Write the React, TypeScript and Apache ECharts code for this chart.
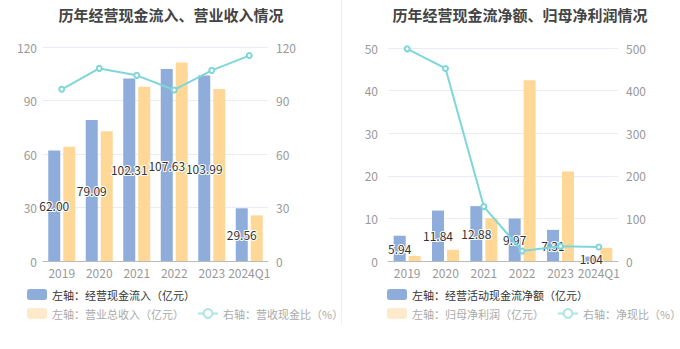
import React, { useEffect, useRef } from "react";
import * as echarts from "echarts";

const years = ["2019", "2020", "2021", "2022", "2023", "2024Q1"];
// left chart
const cashInflow = [62.0, 79.09, 102.31, 107.63, 103.99, 29.56];
const revenue = [64.0, 72.7, 97.7, 111.3, 96.4, 25.6];
const inflowRatio = [96.3, 108.0, 104.1, 95.9, 106.9, 115.2];
// right chart
const netCash = [5.94, 11.84, 12.88, 9.97, 7.31, 1.04];
const netProfit = [1.19, 2.62, 10.08, 42.45, 21.0, 3.1];
const netRatio = [498, 452, 127.7, 23.5, 34.5, 33.0];

const BLUE = "#8eaddb";
const ORANGE = "#ffd898";
const TEAL = "#7fd6d9";
const FONT = "'Noto Sans CJK SC', 'Noto Sans', sans-serif";

export default function App() {
  const ref = useRef<HTMLDivElement>(null);
  useEffect(() => {
    if (!ref.current) return;
    const chart = echarts.init(ref.current, null, { renderer: "svg" });
    const axisLabel = { color: "#999", fontSize: 12, fontFamily: FONT };
    const splitLine = { lineStyle: { color: "#e8edf5" } };
    const xAxisCommon = {
      type: "category",
      data: years,
      axisLine: { lineStyle: { color: "#bbb" } },
      axisTick: { alignWithLabel: true, length: 4, lineStyle: { color: "#bbb" } },
      axisLabel: { ...axisLabel, margin: 5, interval: 0 },
    };
    const valueAxis = (gridIndex: number, max: number, interval: number, margin: number, showSplit: boolean) => ({
      type: "value",
      gridIndex,
      min: 0,
      max,
      interval,
      axisLine: { show: false },
      axisTick: { show: false },
      axisLabel: { ...axisLabel, margin },
      splitLine: { show: showSplit, ...splitLine },
    });
    const barLabel = {
      show: true,
      position: "inside",
      color: "#333",
      fontSize: 12,
      fontFamily: FONT,
      textBorderColor: "#fff",
      textBorderWidth: 2,
      formatter: (p: any) => Number(p.value).toFixed(2),
    };
    const legendText = { fontSize: 11, fontFamily: FONT, color: "#333" };
    const fadedText = { fontSize: 11, fontFamily: FONT, color: "#aaa" };
    const mkLegends = (left: number, names: string[]) => [
      {
        left,
        top: 289,
        padding: 0,
        itemWidth: 20,
        itemHeight: 11,
        itemGap: 12,
        textStyle: legendText,
        data: [{ name: names[0], itemStyle: { color: BLUE } }],
      },
      {
        left,
        top: 308,
        padding: 0,
        width: 320,
        itemWidth: 20,
        itemHeight: 11,
        itemGap: 13,
        data: [
          { name: names[1], itemStyle: { color: "#ffeacb" }, textStyle: fadedText },
          {
            name: names[2],
            itemStyle: { color: "#ade5e7" },
            lineStyle: { color: "#ade5e7", width: 2 },
            textStyle: fadedText,
          },
        ],
      },
    ];
    const leftNames = ["左轴：经营现金流入（亿元）", "左轴：营业总收入（亿元）", "右轴：营收现金比（%）"];
    const rightNames = ["左轴：经营活动现金流净额（亿元）", "左轴：归母净利润（亿元）", "右轴：净现比（%）"];
    chart.setOption({
      animation: false,
      textStyle: { fontFamily: FONT },
      title: [
        {
          text: "历年经营现金流入、营业收入情况",
          left: 166,
          textAlign: "center",
          top: 2,
          textStyle: { fontSize: 15, fontWeight: "bold", color: "#444", fontFamily: FONT },
        },
        {
          text: "历年经营现金流净额、归母净利润情况",
          left: 515,
          textAlign: "center",
          top: 2,
          textStyle: { fontSize: 15, fontWeight: "bold", color: "#444", fontFamily: FONT },
        },
      ],
      legend: [...mkLegends(27, leftNames), ...mkLegends(387, rightNames)],
      grid: [
        { left: 43, right: 412, top: 47, bottom: 88 },
        { left: 388, right: 62, top: 48, bottom: 88 },
      ],
      xAxis: [
        { ...xAxisCommon, gridIndex: 0 },
        { ...xAxisCommon, gridIndex: 1 },
      ],
      yAxis: [
        valueAxis(0, 120, 30, 6, true),
        valueAxis(0, 120, 30, 8, false),
        valueAxis(1, 50, 10, 10, true),
        valueAxis(1, 500, 100, 8, false),
      ],
      graphic: [
        {
          type: "line",
          shape: { x1: 341.5, y1: 0, x2: 341.5, y2: 325 },
          style: { stroke: "#f0f0f0", lineWidth: 1 },
        },
      ],
      series: [
        {
          name: leftNames[0],
          type: "bar",
          xAxisIndex: 0,
          yAxisIndex: 0,
          data: cashInflow,
          barWidth: 12,
          barGap: "25%",
          itemStyle: { color: BLUE },
          label: barLabel,
          z: 2,
        },
        {
          name: leftNames[1],
          type: "bar",
          xAxisIndex: 0,
          yAxisIndex: 0,
          data: revenue,
          barWidth: 12,
          barGap: "25%",
          itemStyle: { color: ORANGE },
          z: 1,
        },
        {
          name: leftNames[2],
          type: "line",
          xAxisIndex: 0,
          yAxisIndex: 1,
          data: inflowRatio,
          symbol: "emptyCircle",
          symbolSize: 5,
          itemStyle: { color: TEAL },
          lineStyle: { color: TEAL, width: 2 },
          z: 5,
        },
        {
          name: rightNames[0],
          type: "bar",
          xAxisIndex: 1,
          yAxisIndex: 2,
          data: netCash,
          barWidth: 12,
          barGap: "25%",
          itemStyle: { color: BLUE },
          label: barLabel,
          z: 2,
        },
        {
          name: rightNames[1],
          type: "bar",
          xAxisIndex: 1,
          yAxisIndex: 2,
          data: netProfit,
          barWidth: 12,
          barGap: "25%",
          itemStyle: { color: ORANGE },
          z: 1,
        },
        {
          name: rightNames[2],
          type: "line",
          xAxisIndex: 1,
          yAxisIndex: 3,
          data: netRatio,
          symbol: "emptyCircle",
          symbolSize: 5,
          itemStyle: { color: TEAL },
          lineStyle: { color: TEAL, width: 2 },
          z: 5,
        },
      ],
    });
    return () => chart.dispose();
  }, []);
  return (
    <div
      ref={ref}
      style={{ position: "absolute", left: 0, top: 0, width: 680, height: 349, background: "#fff" }}
    />
  );
}
